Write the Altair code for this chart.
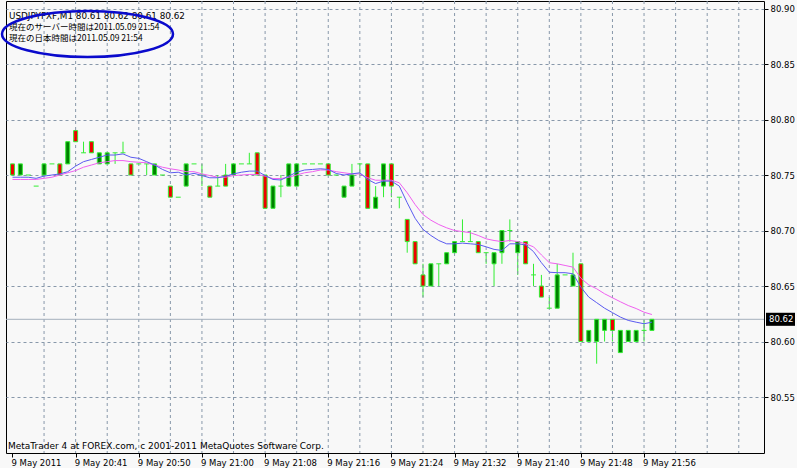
import altair as alt
import pandas as pd

# ---- data (USDJPY, M1) ----
opens = [80.76, 80.75, 80.75, 80.74, 80.75, 80.76, 80.76, 80.76, 80.79, 80.77,
         80.78, 80.76, 80.76, 80.77, 80.77, 80.76, 80.76, 80.76, 80.75, 80.75,
         80.74, 80.73, 80.74, 80.76, 80.75, 80.74, 80.74, 80.75, 80.75, 80.76,
         80.76, 80.77, 80.75, 80.72, 80.74, 80.74, 80.74, 80.76, 80.76, 80.76,
         80.76, 80.75, 80.73, 80.74, 80.76, 80.76, 80.72, 80.74, 80.76, 80.73,
         80.71, 80.69, 80.66, 80.65, 80.67, 80.67, 80.68, 80.69, 80.69, 80.69,
         80.68, 80.67, 80.68, 80.70, 80.68, 80.69, 80.66, 80.65, 80.63, 80.63,
         80.66, 80.65, 80.67, 80.60, 80.60, 80.61, 80.62, 80.59, 80.60, 80.60,
         80.61, 80.61]
highs = [80.76, 80.76, 80.75, 80.74, 80.76, 80.76, 80.76, 80.78, 80.79, 80.78,
         80.78, 80.77, 80.77, 80.77, 80.78, 80.76, 80.76, 80.76, 80.76, 80.75,
         80.74, 80.73, 80.76, 80.76, 80.76, 80.74, 80.75, 80.76, 80.76, 80.76,
         80.77, 80.77, 80.75, 80.74, 80.75, 80.76, 80.76, 80.76, 80.76, 80.76,
         80.76, 80.75, 80.74, 80.76, 80.76, 80.76, 80.74, 80.76, 80.76, 80.73,
         80.71, 80.69, 80.67, 80.67, 80.67, 80.68, 80.69, 80.71, 80.70, 80.69,
         80.68, 80.68, 80.70, 80.71, 80.69, 80.69, 80.67, 80.66, 80.64, 80.67,
         80.66, 80.68, 80.67, 80.61, 80.62, 80.62, 80.62, 80.61, 80.61, 80.61,
         80.62, 80.62]
lows = [80.75, 80.75, 80.75, 80.74, 80.75, 80.76, 80.75, 80.76, 80.78, 80.77,
        80.77, 80.76, 80.76, 80.76, 80.77, 80.75, 80.76, 80.75, 80.75, 80.75,
        80.73, 80.73, 80.74, 80.76, 80.74, 80.73, 80.74, 80.74, 80.75, 80.76,
        80.76, 80.75, 80.72, 80.72, 80.73, 80.74, 80.74, 80.76, 80.76, 80.76,
        80.75, 80.75, 80.73, 80.74, 80.75, 80.72, 80.72, 80.73, 80.73, 80.72,
        80.68, 80.67, 80.64, 80.65, 80.65, 80.67, 80.68, 80.69, 80.69, 80.68,
        80.67, 80.65, 80.67, 80.69, 80.66, 80.67, 80.65, 80.64, 80.63, 80.63,
        80.66, 80.65, 80.60, 80.60, 80.58, 80.60, 80.60, 80.59, 80.60, 80.60,
        80.60, 80.61]
closes = [80.75, 80.76, 80.75, 80.74, 80.76, 80.76, 80.75, 80.78, 80.78, 80.77,
          80.77, 80.77, 80.77, 80.77, 80.77, 80.75, 80.76, 80.76, 80.76, 80.75,
          80.73, 80.73, 80.76, 80.76, 80.75, 80.73, 80.74, 80.74, 80.76, 80.76,
          80.76, 80.75, 80.72, 80.74, 80.74, 80.76, 80.76, 80.76, 80.76, 80.76,
          80.75, 80.75, 80.74, 80.75, 80.76, 80.72, 80.73, 80.76, 80.74, 80.73,
          80.69, 80.67, 80.65, 80.67, 80.67, 80.68, 80.69, 80.69, 80.69, 80.68,
          80.68, 80.68, 80.70, 80.70, 80.69, 80.67, 80.66, 80.64, 80.63, 80.66,
          80.66, 80.66, 80.60, 80.61, 80.62, 80.62, 80.61, 80.61, 80.61, 80.61,
          80.61, 80.62]
ma_fast = [80.748, 80.748, 80.748, 80.747, 80.749, 80.750, 80.751, 80.753, 80.758, 80.762,
           80.764, 80.766, 80.768, 80.768, 80.769, 80.766, 80.765, 80.762, 80.759, 80.755,
           80.752, 80.7525, 80.750, 80.7515, 80.7495, 80.7475, 80.7475, 80.749, 80.751, 80.7525,
           80.7535, 80.7535, 80.7495, 80.746, 80.7455, 80.749, 80.7525, 80.7545, 80.755, 80.7556,
           80.755, 80.7514, 80.750, 80.751, 80.752, 80.746, 80.7423, 80.7445, 80.7445, 80.740,
           80.725, 80.711, 80.701, 80.6955, 80.691, 80.688, 80.688, 80.6886, 80.688, 80.6874,
           80.6853, 80.683, 80.682, 80.688, 80.688, 80.687, 80.681, 80.671, 80.6624, 80.662,
           80.662, 80.661, 80.649, 80.640, 80.635, 80.630, 80.626, 80.622, 80.619, 80.6174,
           80.616, 80.6174]
ma_slow = [80.746, 80.746, 80.746, 80.746, 80.747, 80.748, 80.750, 80.752, 80.754, 80.757,
           80.759, 80.761, 80.762, 80.763, 80.763, 80.762, 80.7615, 80.761, 80.759, 80.757,
           80.7556, 80.7545, 80.753, 80.753, 80.751, 80.7495, 80.748, 80.748, 80.7495, 80.750,
           80.7505, 80.7505, 80.749, 80.7468, 80.7468, 80.748, 80.750, 80.752, 80.753, 80.7545,
           80.7545, 80.753, 80.752, 80.751, 80.751, 80.7475, 80.7453, 80.7453, 80.7453, 80.743,
           80.734, 80.7234, 80.7144, 80.7093, 80.7054, 80.7024, 80.700, 80.699, 80.698, 80.6955,
           80.6925, 80.691, 80.690, 80.691, 80.690, 80.688, 80.6853, 80.678, 80.671, 80.670,
           80.6685, 80.667, 80.657, 80.651, 80.6475, 80.643, 80.6394, 80.6358, 80.6324, 80.6297,
           80.6264, 80.6243]
x_tick_labels = ["9 May 2011", "9 May 20:41", "9 May 20:50", "9 May 21:00", "9 May 21:08",
                 "9 May 21:16", "9 May 21:24", "9 May 21:32", "9 May 21:40", "9 May 21:48",
                 "9 May 21:56"]
x_tick_bars = [0, 8, 16, 24, 32, 40, 48, 56, 64, 72, 80]
x_grid_bars = [4, 8, 12, 16, 20, 24, 28, 32, 36, 40, 44, 48, 52, 56, 60, 64, 68,
               72, 76, 80, 84, 88, 92]
y_tick_values = [80.55, 80.60, 80.65, 80.70, 80.75, 80.80, 80.85, 80.90]
header_lines = ["USDJPYFXF,M1  80.61 80.62 80.61 80.62",
                "現在のサーバー時間は2011.05.09 21:54",
                "現在の日本時間は2011.05.09 21:54"]
footer_text = "MetaTrader 4 at FOREX.com, c 2001-2011 MetaQuotes Software Corp."
bid_price = [80.62]

# ---- styling ----
BG = "#F8F8F8"
GRID = "#8898AA"
LIME = "#33EE33"
BULL = "#008000"
BEAR = "#EE0000"
FAST = "#5A5AF0"
SLOW = "#F060F0"
BIDC = "#A4B0BC"
FONT = "DejaVu Sans"
JFONT = "Noto Sans CJK JP"
AXFS = 8.5

df = pd.DataFrame({"i": list(range(len(opens))), "o": opens, "h": highs,
                   "l": lows, "c": closes, "fast": ma_fast, "slow": ma_slow})

xs = alt.Scale(domain=[-0.1875, 94.5625], nice=False, zero=False)
ys = alt.Scale(domain=[80.49955, 80.90676], nice=False, zero=False)

# nested ternary label expression built from the label list
label_expr = "''"
for v, t in reversed(list(zip(x_tick_bars, x_tick_labels))):
    label_expr = "datum.value == %d ? '%s' : (%s)" % (v, t, label_expr)

x_axis = alt.Axis(values=x_tick_bars, grid=False, domain=False, tickSize=4,
                  tickColor="black", labelExpr=label_expr, labelAlign="left",
                  labelBaseline="top", labelPadding=1, labelOffset=-1.5,
                  labelFont=FONT, labelFontSize=AXFS, labelColor="black",
                  labelOverlap=False, labelFlush=False, labelBound=False, title=None)
y_axis = alt.Axis(values=y_tick_values, orient="right", format=".2f", grid=True,
                  gridColor=GRID, gridDash=[3, 3], gridWidth=1, domain=False,
                  tickSize=4, tickColor="black", labelPadding=2, labelFont=FONT,
                  labelFontSize=AXFS, labelColor="black", labelBaseline="middle",
                  labelOverlap=False, labelFlush=False, labelBound=False, title=None)


def X(field):
    return alt.X(field, scale=xs, axis=x_axis)


def Y(field):
    return alt.Y(field, scale=ys, axis=y_axis)


base = alt.Chart(df)

vgrid = alt.Chart(pd.DataFrame({"g": x_grid_bars})).mark_rule(
    color=GRID, strokeWidth=1, strokeDash=[3, 3]).encode(x=X("g:Q"))

wicks = base.mark_rule(color=LIME, strokeWidth=1).encode(
    x=X("i:Q"), y=Y("l:Q"), y2="h:Q")

bodies = base.transform_filter("datum.o != datum.c").mark_bar(
    size=4, stroke=LIME, strokeWidth=1).encode(
    x=X("i:Q"), y=Y("o:Q"), y2="c:Q",
    color=alt.condition("datum.c > datum.o", alt.value(BULL), alt.value(BEAR)))

dojis = base.transform_filter("datum.o == datum.c").transform_calculate(
    xl="datum.i - 0.3125", xr="datum.i + 0.3125").mark_rule(
    color=LIME, strokeWidth=1).encode(x=X("xl:Q"), x2="xr:Q", y=Y("o:Q"))

slow_line = base.mark_line(color=SLOW, strokeWidth=1).encode(
    x=X("i:Q"), y=Y("slow:Q"))
fast_line = base.mark_line(color=FAST, strokeWidth=1).encode(
    x=X("i:Q"), y=Y("fast:Q"))

bid_df = pd.DataFrame({"p": bid_price})
bid_line = alt.Chart(bid_df).mark_rule(color=BIDC, strokeWidth=1).encode(
    y=Y("p:Q"))
bid_box = alt.Chart(bid_df).mark_point(
    shape="M-1,-0.45H1V0.45H-1Z", size=841, filled=True, color="black",
    opacity=1, strokeWidth=0).encode(x=alt.value(774.5), y=Y("p:Q"))
bid_text = alt.Chart(bid_df).mark_text(
    align="left", baseline="middle", color="white", font=FONT, fontSize=AXFS).encode(
    x=alt.value(763), y=Y("p:Q"), text=alt.Text("p:Q", format=".2f"))


def text_layer(txt, x, y, font, size):
    return alt.Chart(pd.DataFrame({"t": [txt]})).mark_text(
        align="left", baseline="alphabetic", color="black", font=font,
        fontSize=size).encode(x=alt.value(x), y=alt.value(y), text="t:N")


h1 = text_layer(header_lines[0], 3, 18, FONT, 8.8)
h2 = text_layer(header_lines[1], 3, 29, JFONT, 8.5)
h3 = text_layer(header_lines[2], 3, 40, JFONT, 8.5)
foot = text_layer(footer_text, 2, 448, FONT, 9)

ellipse = alt.Chart(pd.DataFrame({"a": [0]})).mark_point(
    shape="M-1,0A1,0.27,0,1,1,1,0A1,0.27,0,1,1,-1,0Z", size=171 ** 2,
    filled=False, stroke="#0A0ACC", strokeWidth=2.5, opacity=1).encode(
    x=alt.value(81.5), y=alt.value(33))

chart = alt.layer(
    wicks, vgrid, bid_line, bodies, dojis, slow_line, fast_line,
    bid_box, bid_text, h1, h2, h3, foot, ellipse
).properties(
    width=758, height=452,
    padding={"left": 6, "top": 1, "right": 33, "bottom": 15},
    autosize=alt.AutoSizeParams(type="none"),
    background=BG
).configure_view(stroke="black", strokeWidth=1, fill=BG)

chart.save("out.html", embed_options={"renderer": "svg", "actions": False})
